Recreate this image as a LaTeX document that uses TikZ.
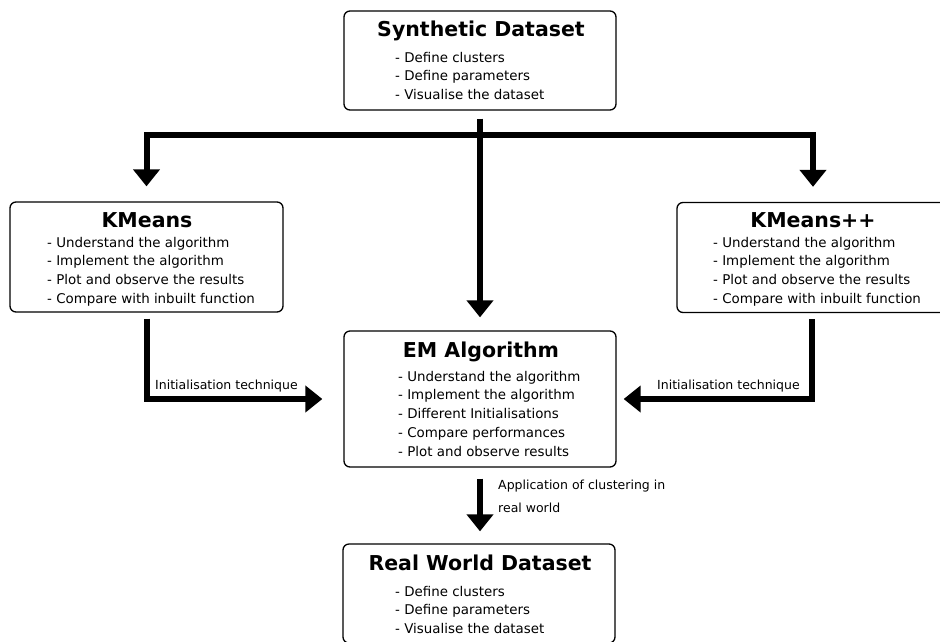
\documentclass[tikz,border=0pt]{standalone}
\usepackage{fontspec}
\setmainfont{DejaVu Sans}
\usetikzlibrary{arrows.meta,calc}
\tikzset{
  box/.style={draw, line width=1.3pt, rounded corners=6pt, inner sep=0pt},
  ttl/.style={font=\bfseries\fontsize{20.5}{24}\selectfont, inner sep=0pt, anchor=base},
  bul/.style={font=\fontsize{13.4}{16}\selectfont, inner sep=0pt, anchor=base west},
  lbl/.style={font=\fontsize{12.5}{22.5}\selectfont, inner sep=0pt},
  arr/.style={line width=6pt, -{Triangle[width=26pt,length=17pt]}},
  bar/.style={line width=6pt}
}
\begin{document}
\begin{tikzpicture}[x=1pt,y=-1pt]
\useasboundingbox (0,0) rectangle (940,641);
\clip (0,0) rectangle (940,641);
% boxes
\node[box, minimum width=272pt, minimum height=99pt] (syn) at (480,60.5) {};
\node[box, minimum width=273pt, minimum height=110pt] (km) at (146.5,257) {};
\node[box, minimum width=273pt, minimum height=110pt] (kmpp) at (813.5,257.5) {};
\node[box, minimum width=272pt, minimum height=136pt] (em) at (480,399) {};
\node[box, minimum width=272pt, minimum height=99pt] (rw) at (479,593.5) {};
% titles
\node[ttl] (syn-t) at (481,36) {Synthetic Dataset};
\node[ttl] (km-t) at (147,227) {KMeans};
\node[ttl] (kmpp-t) at (813,227) {KMeans++};
\node[ttl] (em-t) at (481,357) {EM Algorithm};
\node[ttl] (rw-t) at (480,570) {Real World Dataset};
% bullets
\foreach \t [count=\i] in {- Define clusters, - Define parameters, - Visualise the dataset}
  \node[bul] (syn-b\i) at (395,{62+18.6*(\i-1)}) {\t};
\foreach \t [count=\i] in {- Understand the algorithm, - Implement the algorithm, - Plot and observe the results, - Compare with inbuilt function}
  \node[bul] (km-b\i) at (47,{247+18.9*(\i-1)}) {\t};
\foreach \t [count=\i] in {- Understand the algorithm, - Implement the algorithm, - Plot and observe the results, - Compare with inbuilt function}
  \node[bul] (kmpp-b\i) at (713,{247+18.9*(\i-1)}) {\t};
\foreach \t [count=\i] in {- Understand the algorithm, - Implement the algorithm, - Different Initialisations, - Compare performances, - Plot and observe results}
  \node[bul] (em-b\i) at (398,{381+18.8*(\i-1)}) {\t};
\foreach \t [count=\i] in {- Define clusters, - Define parameters, - Visualise the dataset}
  \node[bul] (rw-b\i) at (395,{596+18.6*(\i-1)}) {\t};
% connectors
\coordinate (jn) at (480,135);
\draw[arr] ([yshift=-8pt]syn.south) -- ([yshift=13pt]em.north);
\draw[bar] ([xshift=3pt]jn) -- (jn);
\draw[arr] (jn) -| ([yshift=15pt]km.north);
\draw[arr] (jn) -| ([yshift=15pt,xshift=-0.5pt]kmpp.north);
\draw[arr] ([yshift=-6pt]km.south) |- ([xshift=-21pt]em.west);
\draw[arr] ([yshift=-6pt,xshift=-2pt]kmpp.south) |- ([xshift=7pt]em.east);
\coordinate (rwtip) at ([yshift=12pt]rw.north);
\draw[arr] ([yshift=-11pt]em.south) -- (em.south |- rwtip);
% labels
\node[lbl, anchor=base west] (l1) at (155,389) {Initialisation technique};
\node[lbl, anchor=base west] (l2) at (657,389) {Initialisation technique};
\node[lbl, anchor=base west] (l3) at (498,489) {Application of clustering in};
\node[lbl, anchor=base west] (l4) at (498,512) {real world};
\end{tikzpicture}
\end{document}
